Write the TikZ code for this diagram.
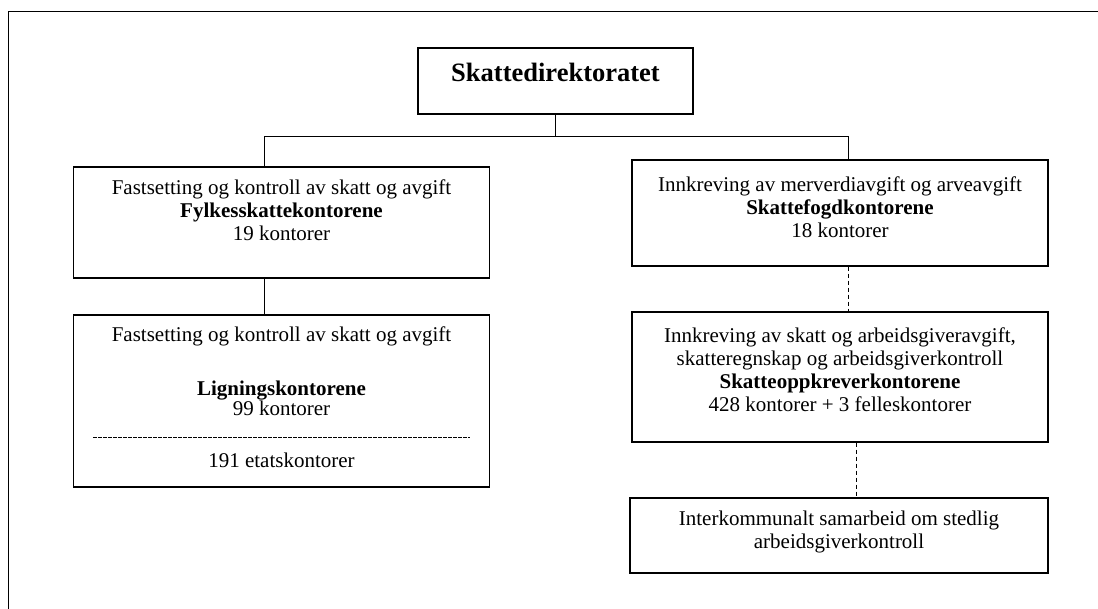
\documentclass[tikz,border=0pt]{standalone}
\usepackage{fontspec}
\setmainfont{Liberation Serif}
\begin{document}
\begin{tikzpicture}[x=1pt,y=-1pt,
  box/.style={draw, line width=1.3pt, rectangle, inner sep=0pt},
  txt/.style={align=center, inner sep=0pt, anchor=north, font=\fontsize{21}{23}\selectfont},
  conn/.style={line width=0.9pt},
  dconn/.style={line width=0.9pt, dash pattern=on 4pt off 3pt}]
\useasboundingbox (0,0) rectangle (1098,609);
% outer frame
\coordinate (fa) at (8,609);
\coordinate (fb) at (8,11);
\coordinate (fc) at (1098,11);
\draw[line width=0.9pt] (fa) -- (fb) -- (fc);
% boxes
\node[box, minimum width=275pt, minimum height=66pt] (top) at (555.5,81) {};
\node[box, minimum width=416pt, minimum height=111pt] (f1) at (281.5,222.5) {};
\node[box, minimum width=416pt, minimum height=172pt] (f2) at (281.5,401) {};
\node[box, minimum width=416pt, minimum height=106pt] (r1) at (840,213) {};
\node[box, minimum width=416pt, minimum height=130pt] (r2) at (840,377) {};
\node[box, minimum width=418pt, minimum height=75pt] (r3) at (839,535.5) {};
% texts
\node[txt, font=\fontsize{26.5}{30}\selectfont\bfseries] (ttop) at (555.5,63) {Skattedirektoratet};
\node[txt] (tf1) at (281.5,180) {Fastsetting og kontroll av skatt og avgift\\\textbf{Fylkesskattekontorene}\\19 kontorer};
\node[txt] (tf2a) at (281.5,327) {Fastsetting og kontroll av skatt og avgift};
\node[txt, font=\fontsize{21}{20}\selectfont] (tf2b) at (281.5,381) {\textbf{Ligningskontorene}\\99 kontorer};
\node[txt] (tf2c) at (281.5,453) {191 etatskontorer};
\node[txt] (tr1) at (840,177) {Innkreving av merverdiavgift og arveavgift\\\textbf{Skattefogdkontorene}\\18 kontorer};
\node[txt] (tr2) at (840,328) {Innkreving av skatt og arbeidsgiveravgift,\\skatteregnskap og arbeidsgiverkontroll\\\textbf{Skatteoppkreverkontorene}\\428 kontorer + 3 felleskontorer};
\node[txt] (tr3) at (839,511) {Interkommunalt samarbeid om stedlig\\arbeidsgiverkontroll};
% divider in f2
\coordinate (da) at (93,437);
\coordinate (db) at (470,437);
\draw[line width=0.8pt, dash pattern=on 3.5pt off 1.5pt] (da) -- (db);
% connectors
\coordinate (jl) at (264,136);
\coordinate (jr) at (848,136);
\draw[conn] (top.south) -- (top.south |- jl);
\draw[conn] (jl |- f1.north) -- (jl) -- (jr) -- (jr |- r1.north);
\draw[conn] (jl |- f1.south) -- (jl |- f2.north);
\draw[dconn] (jr |- r1.south) -- (jr |- r2.north);
\coordinate (jr2) at (856,0);
\draw[dconn] (jr2 |- r2.south) -- (jr2 |- r3.north);
\end{tikzpicture}
\end{document}
